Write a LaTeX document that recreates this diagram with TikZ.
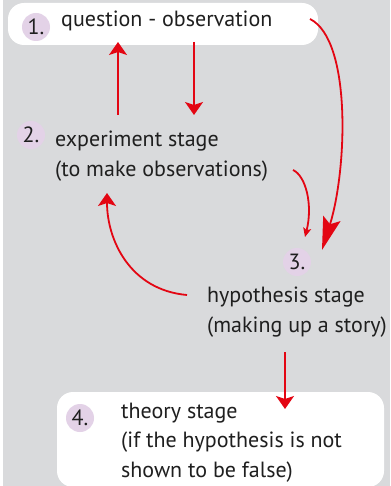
\documentclass[tikz,border=0pt]{standalone}
\usepackage{fontspec}
\setmainfont{PT Sans}
\usetikzlibrary{arrows.meta}

\definecolor{bggrey}{HTML}{D9DADC}
\definecolor{stagepink}{HTML}{E3D2E7}
\definecolor{arrowred}{HTML}{E30613}
\definecolor{inkgrey}{HTML}{1F1F1F}

\tikzset{
  stagebox/.style={fill=white, rounded corners=16pt},
  numdot/.style={circle, fill=stagepink, minimum size=28pt, inner sep=0pt,
    font=\fontsize{22}{22}\selectfont, text=inkgrey},
  stagetext/.style={anchor=base west, align=left, inner sep=0pt,
    font=\fontsize{22}{29.5}\selectfont, text=inkgrey},
  link/.style={draw=arrowred, line width=1.8pt,
    -{Stealth[length=13pt,width=18pt,inset=3pt]}},
}

\begin{document}
\begin{tikzpicture}[x=1pt,y=-1pt]
\useasboundingbox (0,0) rectangle (390,486);
\fill[white] (0,0) rectangle (390,486);
\fill[bggrey] (3,0) rectangle (390,486);
\fill[stagebox] (8,3) rectangle (318,45);
\fill[stagebox] (57,392) rectangle (384,487);

% numbered dots
\node[numdot] (n1) at (36,27) {1.};
\node[numdot] (n2) at (31,135) {2.};
\node[numdot] (n3) at (297,262) {3.};
\node[numdot] (n4) at (80,418) {4.};

% stage texts (placed at the baseline of the last line)
\node[stagetext] (question) at (61,27) {question - observation};
\node[stagetext] (experiment) at (55,176) {experiment stage\\(to make observations)};
\node[stagetext] (hypothesis) at (207,332) {hypothesis stage\\(making up a story)};
\node[stagetext] (theory) at (121,477) {theory stage\\(if the hypothesis is not\\shown to be false)};

% arrow ends
\coordinate (upS) at (118,115);
\coordinate (upE) at (118,42);
\coordinate (downS) at (194,42);
\coordinate (downE) at (194,115);
\coordinate (longS) at (310,19);
\coordinate (longE) at (322,250);
\coordinate (shortS) at (293,170);
\coordinate (shortE) at (305,237);
\coordinate (backS) at (187,295);
\coordinate (backE) at (107,193);
\coordinate (theoryS) at (285,352);
\coordinate (theoryE) at (285,409);

\draw[link] (upS) -- (upE);
\draw[link] (downS) -- (downE);
\draw[link, -{Stealth[length=33pt,width=18pt,inset=6pt]}]
  (longS) .. controls (352,40) and (347,170) .. (longE);
\draw[link, -{Stealth[length=9pt,width=8pt,inset=2pt]}]
  (shortS) .. controls (306,176) and (313,205) .. (shortE);
\draw[link] (backS) .. controls (130,290) and (107,240) .. (backE);
\draw[link] (theoryS) -- (theoryE);
\end{tikzpicture}
\end{document}
